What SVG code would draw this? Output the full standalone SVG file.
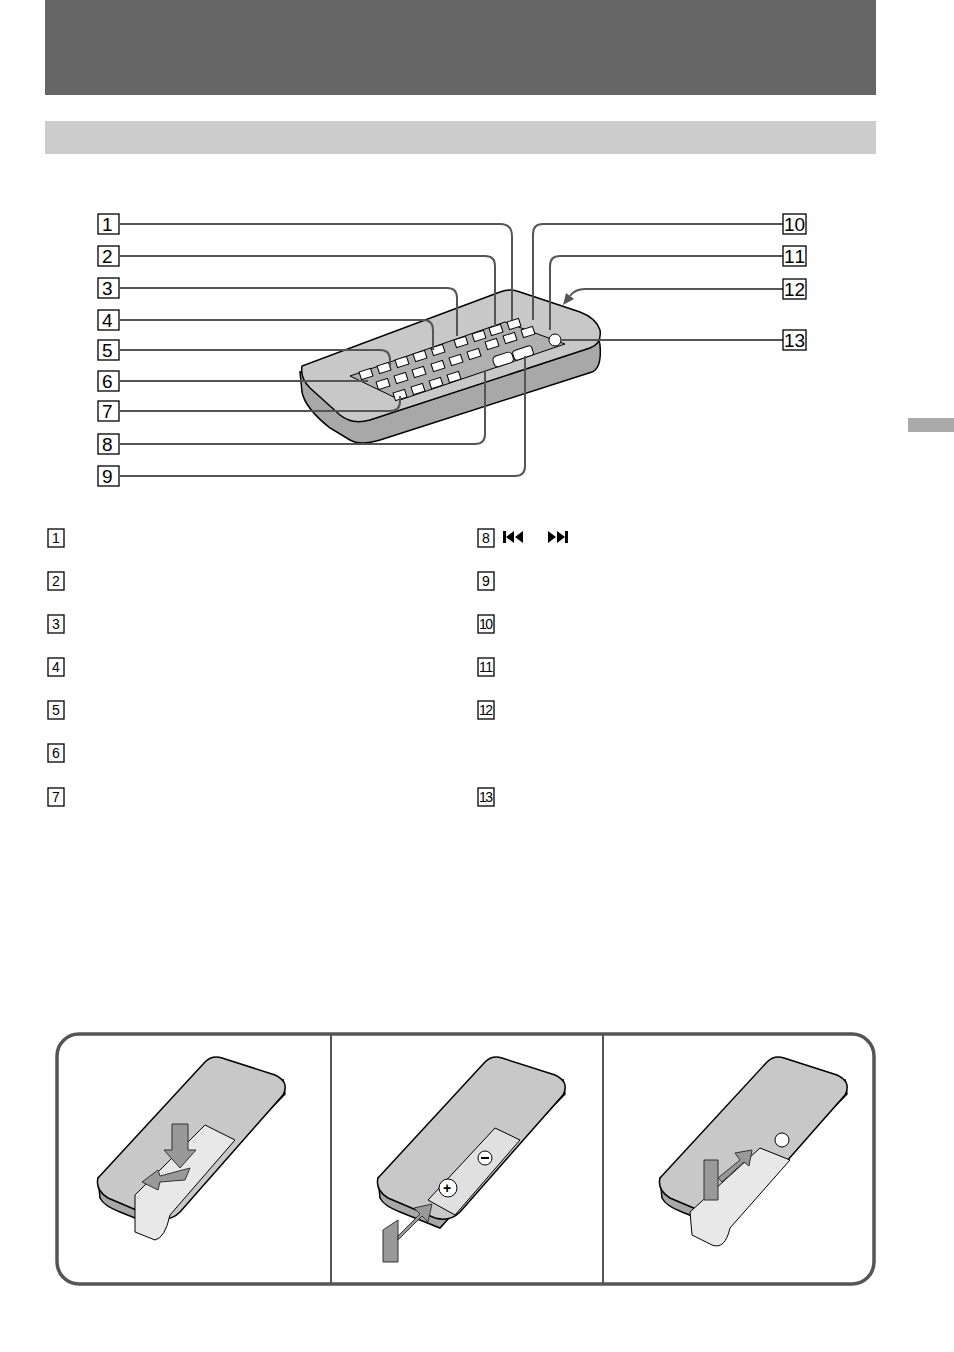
<svg xmlns="http://www.w3.org/2000/svg" width="954" height="1352" viewBox="0 0 954 1352">
<style>
.bx{fill:#fff;stroke:#000;stroke-width:1.3}
.n{font-family:"Liberation Sans",Arial,sans-serif;font-size:19px;fill:#000}
.sn{font-family:"Liberation Sans",Arial,sans-serif;font-size:14px;fill:#000}
.ln{fill:none;stroke:#555;stroke-width:2}
.body{fill:#c8c8c8;stroke:#000;stroke-width:1.5}
.side{fill:#a8a8a8;stroke:#000;stroke-width:1.5}
.btn{fill:#fff;stroke:#000;stroke-width:1}
.arr{fill:#999;stroke:#333;stroke-width:1}
</style>
<rect x="45" y="0" width="831" height="95" fill="#666"/>
<rect x="45" y="121" width="831" height="33" fill="#ccc"/>
<rect x="908" y="418" width="46" height="14" fill="#aaa"/>

<g id="remote">
<path class="side" d="M300,372 L302,392 Q305,408 330,428 L350,440 Q360,446 380,440 L592,372 Q602,368 600,345 L598,335 Z"/>
<path class="body" d="M302,366 Q300,378 310,388 L340,415 Q352,425 370,420 L590,348 Q602,344 600,330 Q596,318 580,312 L520,292 Q510,288 500,292 Z"/>
<path d="M350,376 L505,322 L565,344 L400,400 Z" fill="#b0b0b0" stroke="#000"/>
<g class="btn">
<rect x="360" y="370" width="12" height="8" transform="rotate(-18 366 374)"/>
<rect x="378" y="364" width="12" height="8" transform="rotate(-18 384 368)"/>
<rect x="396" y="358" width="12" height="8" transform="rotate(-18 402 362)"/>
<rect x="414" y="352" width="12" height="8" transform="rotate(-18 420 356)"/>
<rect x="432" y="346" width="12" height="8" transform="rotate(-18 438 350)"/>
<rect x="455" y="338" width="12" height="8" transform="rotate(-18 461 342)"/>
<rect x="473" y="332" width="12" height="8" transform="rotate(-18 479 336)"/>
<rect x="490" y="326" width="12" height="8" transform="rotate(-18 496 330)"/>
<rect x="508" y="320" width="12" height="8" transform="rotate(-18 514 324)"/>
<rect x="377" y="380" width="12" height="8" transform="rotate(-18 383 384)"/>
<rect x="395" y="374" width="12" height="8" transform="rotate(-18 401 378)"/>
<rect x="413" y="368" width="12" height="8" transform="rotate(-18 419 372)"/>
<rect x="432" y="362" width="12" height="8" transform="rotate(-18 438 366)"/>
<rect x="450" y="356" width="12" height="8" transform="rotate(-18 456 360)"/>
<rect x="468" y="350" width="12" height="8" transform="rotate(-18 474 354)"/>
<rect x="486" y="340" width="12" height="8" transform="rotate(-18 492 344)"/>
<rect x="504" y="334" width="12" height="8" transform="rotate(-18 510 338)"/>
<rect x="522" y="328" width="12" height="8" transform="rotate(-18 528 332)"/>
<rect x="394" y="391" width="12" height="8" transform="rotate(-18 400 395)"/>
<rect x="412" y="385" width="12" height="8" transform="rotate(-18 418 389)"/>
<rect x="430" y="379" width="12" height="8" transform="rotate(-18 436 383)"/>
<rect x="448" y="373" width="12" height="8" transform="rotate(-18 454 377)"/>
<rect x="493" y="354" width="20" height="11" rx="4" transform="rotate(-18 503 359)"/>
<rect x="513" y="348" width="20" height="10" rx="3" transform="rotate(-18 523 353)"/>
<circle cx="555" cy="340" r="6"/>
</g>
</g>

<g id="connectors">
<path class="ln" d="M120,224 H500 Q512,224 512,236 V320"/>
<path class="ln" d="M120,256 H485 Q495,256 495,266 V326"/>
<path class="ln" d="M120,288 H447 Q457,288 457,298 V336"/>
<path class="ln" d="M120,320 H423 Q433,320 433,330 V350"/>
<path class="ln" d="M120,350 H380 Q390,350 390,360 V366"/>
<path class="ln" d="M120,381 H368"/>
<path class="ln" d="M120,411 H390 Q400,411 400,401 V396"/>
<path class="ln" d="M120,444 H475 Q485,444 485,434 V372"/>
<path class="ln" d="M120,476 H515 Q525,476 525,466 V356"/>
<path class="ln" d="M783,224 H543 Q533,224 533,234 V320"/>
<path class="ln" d="M783,256 H560 Q550,256 550,266 V330"/>
<path class="ln" d="M783,289 H585 Q575,289 570,296"/>
<polygon points="563,305 566,293 574,299" fill="#555"/>
<path class="ln" d="M783,340 H560"/>
</g>

<g id="labels">
<rect class="bx" x="98" y="214" width="21" height="20"/><text class="n" x="102" y="231">1</text>
<rect class="bx" x="98" y="246" width="21" height="20"/><text class="n" x="102" y="263">2</text>
<rect class="bx" x="98" y="278" width="21" height="20"/><text class="n" x="102" y="295">3</text>
<rect class="bx" x="98" y="310" width="21" height="20"/><text class="n" x="102" y="327">4</text>
<rect class="bx" x="98" y="340" width="21" height="20"/><text class="n" x="102" y="357">5</text>
<rect class="bx" x="98" y="371" width="21" height="20"/><text class="n" x="102" y="388">6</text>
<rect class="bx" x="98" y="401" width="21" height="20"/><text class="n" x="102" y="418">7</text>
<rect class="bx" x="98" y="434" width="21" height="20"/><text class="n" x="102" y="451">8</text>
<rect class="bx" x="98" y="466" width="21" height="20"/><text class="n" x="102" y="483">9</text>
<rect class="bx" x="783" y="214" width="23" height="20"/><text class="n" x="784" y="231" textLength="21">10</text>
<rect class="bx" x="783" y="246" width="23" height="20"/><text class="n" x="784" y="263" textLength="21">11</text>
<rect class="bx" x="783" y="279" width="23" height="20"/><text class="n" x="784" y="296" textLength="21">12</text>
<rect class="bx" x="783" y="330" width="23" height="20"/><text class="n" x="784" y="347" textLength="21">13</text>
</g>

<g id="legend">
<rect class="bx" x="48" y="529" width="16" height="18"/><text class="sn" x="52" y="543">1</text>
<rect class="bx" x="48" y="572" width="16" height="18"/><text class="sn" x="52" y="586">2</text>
<rect class="bx" x="48" y="615" width="16" height="18"/><text class="sn" x="52" y="629">3</text>
<rect class="bx" x="48" y="658" width="16" height="18"/><text class="sn" x="52" y="672">4</text>
<rect class="bx" x="48" y="701" width="16" height="18"/><text class="sn" x="52" y="715">5</text>
<rect class="bx" x="48" y="744" width="16" height="18"/><text class="sn" x="52" y="758">6</text>
<rect class="bx" x="48" y="788" width="16" height="18"/><text class="sn" x="52" y="802">7</text>
<rect class="bx" x="478" y="529" width="16" height="18"/><text class="sn" x="482" y="543">8</text>
<rect class="bx" x="478" y="572" width="16" height="18"/><text class="sn" x="482" y="586">9</text>
<rect class="bx" x="478" y="615" width="16" height="18"/><text class="sn" x="479" y="629" textLength="14">10</text>
<rect class="bx" x="478" y="658" width="16" height="18"/><text class="sn" x="479" y="672" textLength="14">11</text>
<rect class="bx" x="478" y="701" width="16" height="18"/><text class="sn" x="479" y="715" textLength="14">12</text>
<rect class="bx" x="478" y="788" width="16" height="18"/><text class="sn" x="479" y="802" textLength="14">13</text>
<rect x="503" y="531" width="3" height="12"/><polygon points="514,531 514,543 506,537"/><polygon points="523,531 523,543 515,537"/>
<polygon points="548,531 548,543 556,537"/><polygon points="557,531 557,543 565,537"/><rect x="565" y="531" width="3" height="12"/>
</g>

<g id="battery">
<rect x="57" y="1034" width="817" height="250" rx="22" fill="#fff" stroke="#555" stroke-width="3.5"/>
<line x1="331" y1="1034" x2="331" y2="1284" stroke="#555" stroke-width="2"/>
<line x1="603" y1="1034" x2="603" y2="1284" stroke="#555" stroke-width="2"/>

<g id="step1">
<path class="side" d="M98,1178 L100,1198 Q104,1206 120,1212 L160,1228 L230,1150 L285,1094 L283,1080 Z"/>
<path class="body" d="M98,1178 L205,1062 Q212,1055 222,1058 L275,1075 Q290,1082 283,1095 L180,1212 Q170,1222 155,1218 L108,1198 Q95,1190 98,1178 Z"/>
<path d="M135,1195 L205,1125 L235,1140 L170,1215 Q165,1238 155,1240 L135,1232 Z" fill="#e8e8e8" stroke="#000"/>
<polygon class="arr" points="172,1124 188,1124 188,1150 196,1150 180,1168 164,1150 172,1150"/>
<polygon class="arr" points="190,1168 185,1180 160,1182 158,1190 142,1182 158,1170 160,1176"/>
</g>

<g id="step2">
<path class="side" d="M378,1178 L380,1198 Q384,1206 400,1212 L440,1228 L510,1150 L565,1094 L563,1080 Z"/>
<path class="body" d="M378,1178 L485,1062 Q492,1055 502,1058 L555,1075 Q570,1082 563,1095 L460,1212 Q450,1222 435,1218 L388,1198 Q375,1190 378,1178 Z"/>
<path d="M428,1200 L495,1128 L520,1140 L455,1215 Z" fill="#e0e0e0" stroke="#000"/>
<circle cx="448" cy="1188" r="9" fill="#fff" stroke="#000"/><text x="443" y="1193" font-family="Liberation Sans,sans-serif" font-size="14" font-weight="bold">+</text>
<circle cx="485" cy="1158" r="7" fill="#fff" stroke="#000"/><rect x="481" y="1157" width="8" height="2"/>
<polygon class="arr" points="383,1230 398,1220 398,1262 383,1262"/>
<polygon class="arr" points="398,1236 420,1214 414,1208 432,1204 428,1222 422,1216 398,1240"/>
</g>

<g id="step3">
<path class="side" d="M660,1178 L662,1198 Q666,1206 682,1212 L722,1228 L792,1150 L847,1094 L845,1080 Z"/>
<path class="body" d="M660,1178 L767,1062 Q774,1055 784,1058 L837,1075 Q852,1082 845,1095 L742,1212 Q732,1222 717,1218 L670,1198 Q657,1190 660,1178 Z"/>
<path d="M690,1212 L760,1148 L790,1160 L730,1228 Q725,1250 712,1245 L692,1235 Z" fill="#e8e8e8" stroke="#000"/>
<circle cx="782" cy="1140" r="7" fill="#fff" stroke="#000"/>
<polygon class="arr" points="704,1160 718,1160 718,1200 704,1200"/>
<polygon class="arr" points="718,1178 740,1160 735,1153 752,1150 749,1166 744,1162 722,1182"/>
</g>
</g>
</svg>
